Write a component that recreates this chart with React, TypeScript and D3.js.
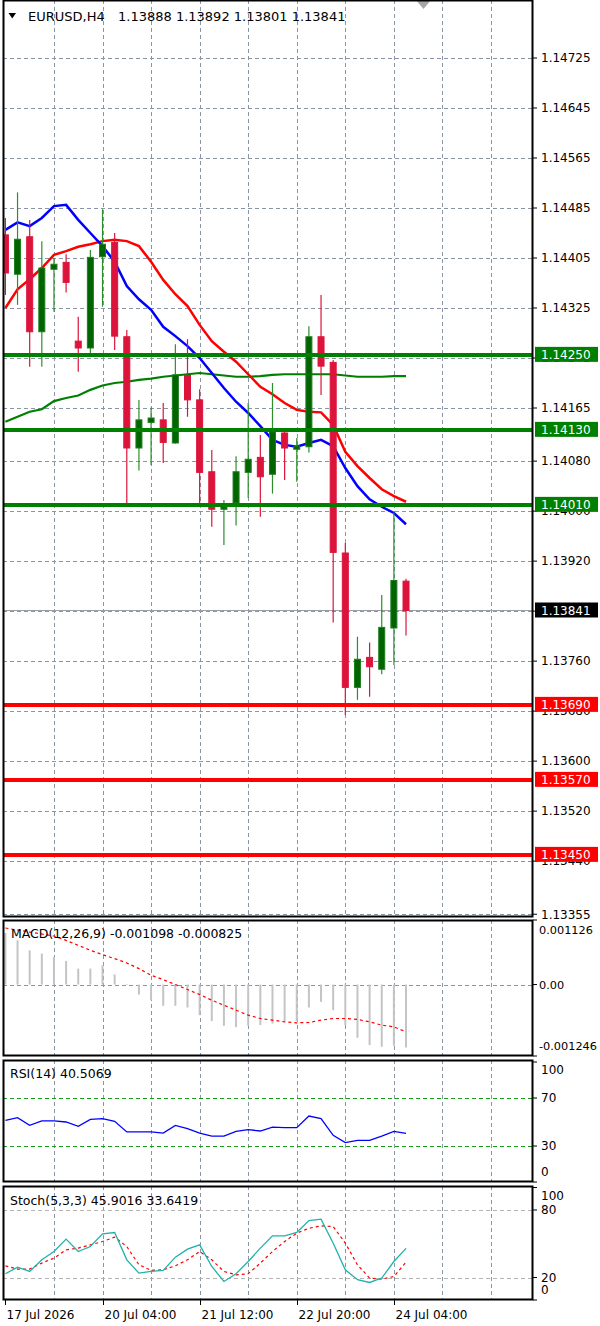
import React from 'react';
import * as d3 from 'd3';

// ---------- DATA ----------
const opens = [1.14442, 1.14379, 1.14439, 1.14287, 1.14387, 1.14398, 1.14272, 1.14261, 1.14407, 1.14430, 1.14279, 1.14101, 1.14142, 1.14146, 1.14109, 1.14217, 1.14178, 1.14063, 1.14003, 1.14013, 1.14062, 1.14086, 1.14059, 1.14125, 1.14099, 1.14103, 1.14279, 1.14238, 1.13933, 1.13718, 1.13766, 1.13747, 1.13813, 1.13888];
const highs = [1.14469, 1.14510, 1.14466, 1.14432, 1.14405, 1.14411, 1.14311, 1.14418, 1.14483, 1.14445, 1.14290, 1.14178, 1.14166, 1.14173, 1.14267, 1.14275, 1.14195, 1.14098, 1.14018, 1.14088, 1.14173, 1.14122, 1.14205, 1.14129, 1.14117, 1.14296, 1.14346, 1.14242, 1.13949, 1.13799, 1.13790, 1.13866, 1.13998, 1.13892];
const lows = [1.14346, 1.14330, 1.14231, 1.14231, 1.14319, 1.14350, 1.14223, 1.14253, 1.14327, 1.14258, 1.14010, 1.14065, 1.14074, 1.14077, 1.14108, 1.14151, 1.14013, 1.13975, 1.13946, 1.13977, 1.14021, 1.13991, 1.14028, 1.14050, 1.14047, 1.14094, 1.14186, 1.13822, 1.13674, 1.13698, 1.13703, 1.13739, 1.13754, 1.13801];
const closes = [1.14381, 1.14435, 1.14287, 1.14389, 1.14395, 1.14366, 1.14261, 1.14406, 1.14427, 1.14280, 1.14101, 1.14146, 1.14149, 1.14110, 1.14218, 1.14178, 1.14062, 1.14003, 1.14010, 1.14063, 1.14083, 1.14055, 1.14127, 1.14101, 1.14104, 1.14279, 1.14232, 1.13934, 1.13718, 1.13763, 1.13751, 1.13814, 1.13889, 1.13841];

const blueMA = [1.14450, 1.14462, 1.14456, 1.14469, 1.14488, 1.14490, 1.14466, 1.14445, 1.14424, 1.14399, 1.14360, 1.14339, 1.14322, 1.14295, 1.14280, 1.14264, 1.14245, 1.14221, 1.14197, 1.14175, 1.14157, 1.14136, 1.14114, 1.14106, 1.14103, 1.14109, 1.14114, 1.14104, 1.14069, 1.14040, 1.14019, 1.14007, 1.13997, 1.13979];
const redMA = [1.14325, 1.14355, 1.14371, 1.14389, 1.14410, 1.14416, 1.14423, 1.14427, 1.14432, 1.14434, 1.14432, 1.14424, 1.14399, 1.14370, 1.14347, 1.14328, 1.14298, 1.14272, 1.14255, 1.14239, 1.14219, 1.14199, 1.14187, 1.14173, 1.14162, 1.14159, 1.14158, 1.14138, 1.14095, 1.14072, 1.14053, 1.14035, 1.14024, 1.14015];
const greenMA = [1.14143, 1.14151, 1.14159, 1.14163, 1.14176, 1.14181, 1.14185, 1.14194, 1.14201, 1.14205, 1.14207, 1.14210, 1.14212, 1.14215, 1.14217, 1.14219, 1.14221, 1.14219, 1.14217, 1.14215, 1.14215, 1.14216, 1.14218, 1.14219, 1.14219, 1.14219, 1.14219, 1.14219, 1.14217, 1.14215, 1.14215, 1.14215, 1.14216, 1.14216];

const macdMain = [0.00090, 0.000771, 0.000597, 0.000539, 0.000482, 0.000412, 0.000278, 0.000278, 0.000336, 0.000174, 0.00001, -0.000174, -0.000273, -0.000371, -0.000371, -0.000400, -0.000534, -0.000638, -0.000719, -0.000742, -0.000719, -0.000707, -0.000679, -0.000638, -0.000638, -0.000400, -0.000302, -0.000447, -0.000707, -0.000928, -0.001056, -0.001085, -0.001067, -0.001098];
const macdSignal = [0.000986, 0.000951, 0.000916, 0.000882, 0.000847, 0.000771, 0.000684, 0.000597, 0.000522, 0.000452, 0.000377, 0.000278, 0.000162, 0.000087, 0.0, -0.000087, -0.000174, -0.000273, -0.000360, -0.000447, -0.000534, -0.000592, -0.000621, -0.000650, -0.000667, -0.000661, -0.000621, -0.000592, -0.000592, -0.000609, -0.000650, -0.000708, -0.000737, -0.000825];

const rsiVals = [51.4, 53.6, 47.2, 50.9, 50.9, 50.0, 46.4, 52.2, 52.8, 50.6, 41.7, 41.7, 41.7, 40.8, 47.2, 44.5, 40.8, 38.3, 38.3, 42.2, 43.6, 42.5, 45.8, 45.3, 45.3, 55.0, 52.8, 38.9, 32.8, 34.7, 34.7, 38.3, 42.2, 40.5069];

const stochMain = [23.3, 29.2, 25.4, 35.7, 43.1, 54.1, 43.1, 47.5, 58.8, 60.0, 35.7, 23.9, 25.4, 26.3, 38.1, 45.2, 49.0, 29.8, 16.5, 23.3, 34.2, 46.1, 57.0, 57.0, 60.0, 70.6, 71.8, 50.5, 26.9, 18.0, 15.6, 19.5, 34.2, 45.9016];
const stochSignal = [30.4, 27.5, 27.5, 32.8, 37.2, 44.6, 46.1, 49.0, 52.0, 55.9, 47.5, 31.3, 26.3, 26.9, 30.4, 35.7, 43.1, 35.7, 25.4, 22.4, 23.3, 32.8, 43.1, 52.0, 59.4, 63.8, 65.9, 65.3, 50.5, 31.3, 19.5, 18.6, 20.9, 33.6419];

const priceTicks = [1.14725, 1.14645, 1.14565, 1.14485, 1.14405, 1.14325, 1.14245, 1.14165, 1.14080, 1.14000, 1.13920, 1.13840, 1.13760, 1.13680, 1.13600, 1.13520, 1.13440, 1.13355];
const greenLevels = [1.14250, 1.14130, 1.14010];
const redLevels = [1.13690, 1.13570, 1.13450];
const bidPrice = 1.13841;

const timeLabels = ['17 Jul 2026', '20 Jul 04:00', '21 Jul 12:00', '22 Jul 20:00', '24 Jul 04:00'];
const timeLabelBars = [0, 8, 16, 24, 32];
const gridBars = [4, 8, 12, 16, 20, 24, 28, 32, 36, 40];

const macdTicks = [0.001126, 0, -0.001246];
const macdTickLabels = ['0.001126', '0.00', '-0.001246'];
const rsiTicks = [100, 70, 30, 0];
const rsiLevels = [70, 30];
const stochTicks = [100, 80, 20, 0];
const stochLevels = [80, 20];

const headerSymbol = 'EURUSD,H4';
const headerOHLC = '1.13888 1.13892 1.13801 1.13841';
const macdTitle = 'MACD(12,26,9) -0.001098 -0.000825';
const rsiTitle = 'RSI(14) 40.5069';
const stochTitle = 'Stoch(5,3,3) 45.9016 33.6419';

// ---------- CHART ----------
export default function App() {
  const W = 600, H = 1326;
  const L = 3, R = 533;
  const main = { top: 0, bottom: 917 };
  const macdP = { top: 920, bottom: 1056 };
  const rsiP = { top: 1060, bottom: 1182 };
  const stochP = { top: 1186, bottom: 1300 };

  const GRID = '#8a96a5';
  const FONT = 'DejaVu Sans';

  const xs = d3.scaleLinear().domain([0, 40]).range([5.4, 5.4 + 40 * 12.14]);
  const y = d3.scaleLinear().domain([1.13355, 1.14725]).range([914.25, 58]);
  const ym = d3.scaleLinear().domain([-0.001246, 0.001126]).range([macdP.bottom, macdP.top]);
  const yr = d3.scaleLinear().domain([0, 100]).range([1182, 1062]);
  const yst = d3.scaleLinear().domain([0, 100]).range([1300, 1187.5]);

  const lineP = (sc: (v: number) => number) =>
    d3.line<number>().x((_, i) => xs(i)).y((v) => sc(v));

  const clampLabel = (v: number, top: number, bottom: number) => Math.max(top + 10, Math.min(bottom - 10, v));

  const vGrid = (top: number, bottom: number, key: string) =>
    gridBars.map((b) => (
      <line key={key + b} x1={Math.round(xs(b)) + 0.5} x2={Math.round(xs(b)) + 0.5} y1={top} y2={bottom}
        stroke={GRID} strokeWidth={1} strokeDasharray="4,3" />
    ));

  const frame = (p: { top: number; bottom: number }, key: string) => (
    <rect key={key} x={L + 0.5} y={p.top + 0.5} width={R - L - 1} height={p.bottom - p.top - 1}
      fill="none" stroke="#000" strokeWidth={2} />
  );

  return (
    <svg width={W} height={H} viewBox={`0 0 ${W} ${H}`}
      style={{ position: 'absolute', left: 0, top: 0, background: '#fff' }} fontFamily={FONT}>
      <defs>
        <clipPath id="clipMain"><rect x={L + 1} y={main.top} width={R - L - 2} height={main.bottom - main.top} /></clipPath>
        <clipPath id="clipMacd"><rect x={L + 1} y={macdP.top} width={R - L - 2} height={macdP.bottom - macdP.top} /></clipPath>
      </defs>
      <rect x={0} y={0} width={W} height={H} fill="#fff" />

      {/* ---------- MAIN PANEL ---------- */}
      <g clipPath="url(#clipMain)">
        {priceTicks.map((t) => (
          <line key={'hg' + t} x1={L} x2={R} y1={Math.round(y(t)) + 0.5} y2={Math.round(y(t)) + 0.5}
            stroke={GRID} strokeWidth={1} strokeDasharray="4,3" />
        ))}
        {vGrid(main.top, main.bottom, 'vgm')}

        {/* bid line */}
        <line x1={L} x2={R} y1={y(bidPrice)} y2={y(bidPrice)} stroke="#9aa0a6" strokeWidth={1} />

        {/* moving averages */}
        <path d={lineP(y)(greenMA) || ''} fill="none" stroke="#008000" strokeWidth={2.2} />
        <path d={lineP(y)(redMA) || ''} fill="none" stroke="#ff0000" strokeWidth={2.5} />
        <path d={lineP(y)(blueMA) || ''} fill="none" stroke="#0000ff" strokeWidth={2.5} />

        {/* candles */}
        {opens.map((o, i) => {
          const c = closes[i];
          const bull = c >= o;
          const cx = xs(i);
          const top = y(Math.max(o, c));
          const bot = y(Math.min(o, c));
          const wick = bull ? '#2b8f2b' : '#dc143c';
          return (
            <g key={'c' + i}>
              <line x1={cx} x2={cx} y1={y(highs[i])} y2={y(lows[i])} stroke={wick} strokeWidth={1.2} />
              <rect x={cx - 3} y={top} width={6} height={Math.max(1, bot - top)}
                fill={bull ? '#006400' : '#dc143c'} stroke={bull ? '#1f7d1f' : '#dc143c'} strokeWidth={1} />
            </g>
          );
        })}

        {/* horizontal levels */}
        {greenLevels.map((lv) => (
          <line key={'gl' + lv} x1={L} x2={R} y1={y(lv)} y2={y(lv)} stroke="#008000" strokeWidth={4} />
        ))}
        {redLevels.map((lv) => (
          <line key={'rl' + lv} x1={L} x2={R} y1={y(lv)} y2={y(lv)} stroke="#ff0000" strokeWidth={4} />
        ))}
      </g>

      {/* header */}
      <path d="M8.5,13 L16,13 L12.25,18.5 Z" fill="#000" />
      <text x={28} y={20.5} fontSize={13} fill="#000">{headerSymbol}</text>
      <text x={118} y={20.5} fontSize={13} fill="#000">{headerOHLC}</text>
      {/* shift marker */}
      <path d="M416,0 L431,0 L423.5,9 Z" fill="#a6a6a6" />

      {/* ---------- MACD PANEL ---------- */}
      <g clipPath="url(#clipMacd)">
        <line x1={L} x2={R} y1={Math.round(ym(0)) + 0.5} y2={Math.round(ym(0)) + 0.5} stroke={GRID} strokeDasharray="4,3" />
        {vGrid(macdP.top, macdP.bottom, 'vgmacd')}
        {macdMain.map((v, i) => (
          <line key={'mh' + i} x1={xs(i)} x2={xs(i)} y1={ym(0)} y2={ym(v)} stroke="#c4c4c4" strokeWidth={2} />
        ))}
        <path d={lineP(ym)(macdSignal) || ''} fill="none" stroke="#ff0000" strokeWidth={1.2} strokeDasharray="3,3" />
      </g>
      <text x={11} y={937.5} fontSize={12.5} fill="#000">{macdTitle}</text>

      {/* ---------- RSI PANEL ---------- */}
      {vGrid(rsiP.top, rsiP.bottom, 'vgrsi')}
      {rsiLevels.map((lv) => (
        <line key={'rlv' + lv} x1={L} x2={R} y1={Math.round(yr(lv)) + 0.5} y2={Math.round(yr(lv)) + 0.5}
          stroke="#1a9a1a" strokeWidth={1} strokeDasharray="4,3" />
      ))}
      <path d={lineP(yr)(rsiVals) || ''} fill="none" stroke="#0000ff" strokeWidth={1.3} />
      <text x={10} y={1077.5} fontSize={12.5} fill="#000">{rsiTitle}</text>

      {/* ---------- STOCH PANEL ---------- */}
      {vGrid(stochP.top, stochP.bottom, 'vgst')}
      {stochLevels.map((lv) => (
        <line key={'slv' + lv} x1={L} x2={R} y1={Math.round(yst(lv)) + 0.5} y2={Math.round(yst(lv)) + 0.5}
          stroke="#b4b4b4" strokeWidth={1} strokeDasharray="4,3" />
      ))}
      <path d={lineP(yst)(stochSignal) || ''} fill="none" stroke="#ff0000" strokeWidth={1.2} strokeDasharray="3,3" />
      <path d={lineP(yst)(stochMain) || ''} fill="none" stroke="#20b2aa" strokeWidth={1.3} />
      <text x={10} y={1204.5} fontSize={12.5} fill="#000">{stochTitle}</text>

      {/* frames */}
      {frame(main, 'fm')}
      {frame(macdP, 'fmacd')}
      {frame(rsiP, 'frsi')}
      {frame(stochP, 'fst')}

      {/* ---------- RIGHT AXIS ---------- */}
      {priceTicks.map((t) => (
        <g key={'pt' + t}>
          <line x1={R} x2={R + 4} y1={y(t)} y2={y(t)} stroke="#000" />
          <text x={541} y={y(t) + 4.3} fontSize={12} fill="#000">{t.toFixed(5)}</text>
        </g>
      ))}
      {/* bid label */}
      <rect x={535} y={y(bidPrice) - 8} width={63} height={15} fill="#000" />
      <text x={541} y={y(bidPrice) + 4} fontSize={12} fill="#fff">{bidPrice.toFixed(5)}</text>
      {greenLevels.map((lv) => (
        <g key={'glb' + lv}>
          <rect x={535} y={y(lv) - 8} width={63} height={15} fill="#008000" />
          <text x={541} y={y(lv) + 4} fontSize={12} fill="#fff">{lv.toFixed(5)}</text>
        </g>
      ))}
      {redLevels.map((lv) => (
        <g key={'rlb' + lv}>
          <rect x={535} y={y(lv) - 8} width={63} height={15} fill="#ff0000" />
          <text x={541} y={y(lv) + 4} fontSize={12} fill="#fff">{lv.toFixed(5)}</text>
        </g>
      ))}

      {macdTicks.map((t, i) => {
        const yy = clampLabel(ym(t), macdP.top, macdP.bottom);
        return (
          <g key={'mt' + i}>
            <line x1={R} x2={R + 4} y1={ym(t)} y2={ym(t)} stroke="#000" />
            <text x={539} y={yy + 4.3} fontSize={11.3} fill="#000">{macdTickLabels[i]}</text>
          </g>
        );
      })}
      {rsiTicks.map((t) => {
        const yy = clampLabel(yr(t), rsiP.top, rsiP.bottom);
        return (
          <g key={'rt' + t}>
            <line x1={R} x2={R + 4} y1={yr(t)} y2={yr(t)} stroke="#000" />
            <text x={541} y={yy + 4.3} fontSize={12} fill="#000">{t}</text>
          </g>
        );
      })}
      {stochTicks.map((t) => {
        const yy = clampLabel(yst(t), stochP.top, stochP.bottom);
        return (
          <g key={'st' + t}>
            <line x1={R} x2={R + 4} y1={yst(t)} y2={yst(t)} stroke="#000" />
            <text x={541} y={yy + 4.3} fontSize={12} fill="#000">{t}</text>
          </g>
        );
      })}

      {/* ---------- TIME AXIS ---------- */}
      {timeLabels.map((lab, i) => {
        const xx = Math.round(xs(timeLabelBars[i])) + 0.5;
        return (
          <g key={'tl' + i}>
            <line x1={xx} x2={xx} y1={stochP.bottom} y2={stochP.bottom + 5} stroke="#000" />
            <text x={xx + 1} y={1319} fontSize={12} fill="#000">{lab}</text>
          </g>
        );
      })}
    </svg>
  );
}
